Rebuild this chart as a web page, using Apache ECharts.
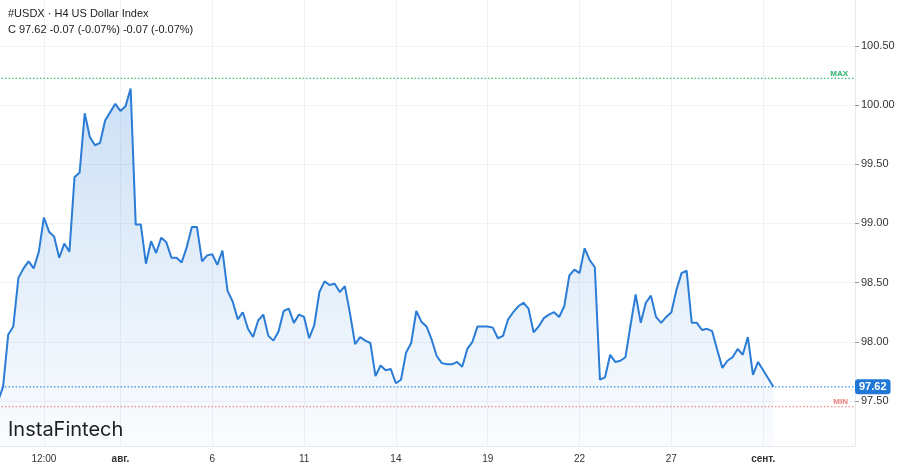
<!DOCTYPE html>
<html>
<head>
<meta charset="utf-8">
<script src="https://cdn.jsdelivr.net/npm/echarts@6/dist/echarts.min.js"></script>
<style>
html,body{margin:0;padding:0;background:#fff;}
#chart{width:900px;height:467px;}
</style>
</head>
<body>
<div id="chart"></div>
<script>
// H4 closes of #USDX, one per 4-hour bar
const closes = [
  97.50, 97.62, 98.06, 98.13, 98.54, 98.62, 98.68, 98.62, 98.76, 99.05,
  98.93, 98.89, 98.71, 98.83, 98.76, 99.39, 99.43, 99.93, 99.73, 99.66,
  99.68, 99.87, 99.94, 100.01, 99.95, 99.99, 100.14, 98.99, 98.99, 98.66,
  98.85, 98.75, 98.88, 98.84, 98.71, 98.71, 98.67, 98.80, 98.97, 98.97,
  98.68, 98.73, 98.74, 98.65, 98.77, 98.43, 98.34, 98.19, 98.25, 98.11,
  98.04, 98.18, 98.23, 98.05, 98.01, 98.09, 98.26, 98.28, 98.16, 98.23,
  98.21, 98.03, 98.14, 98.42, 98.51, 98.48, 98.49, 98.42, 98.47, 98.24,
  97.98, 98.04, 98.01, 97.99, 97.71, 97.80, 97.76, 97.77, 97.65, 97.68,
  97.91, 97.99, 98.26, 98.17, 98.13, 98.02, 97.88, 97.82, 97.81, 97.81,
  97.83, 97.79, 97.94, 98.00, 98.13, 98.13, 98.13, 98.12, 98.03, 98.05,
  98.19, 98.25, 98.30, 98.33, 98.28, 98.08, 98.13, 98.20, 98.23, 98.25,
  98.21, 98.30, 98.56, 98.61, 98.58, 98.79, 98.69, 98.63, 97.68, 97.70,
  97.89, 97.83, 97.84, 97.87, 98.14, 98.40, 98.16, 98.33, 98.39, 98.21,
  98.16, 98.21, 98.25, 98.44, 98.58, 98.60, 98.16, 98.16, 98.10, 98.11,
  98.09, 97.93, 97.78, 97.84, 97.87, 97.94, 97.89, 98.04, 97.72, 97.83,
  97.76, 97.69, 97.62
];
// total bar slots shown on the time axis (data + empty space on the right)
const slotCount = 169;
// x tick labels and the bar index they sit at
const tickIndex = [9, 24, 42, 60, 78, 96, 114, 132, 150];
const tickText = ['12:00', 'авг.', '6', '11', '14', '19', '22', '27', 'сент.'];
const monthTicks = ['авг.', 'сент.'];
// y tick values
const yTicks = [97.5, 98.0, 98.5, 99.0, 99.5, 100.0, 100.5];
// reference levels
const lastPrice = 97.62;
const maxLevel = 100.225;
const minLevel = 97.452;
const titleText = '#USDX · H4 US Dollar Index';
const quoteText = 'C 97.62 -0.07 (-0.07%) -0.07 (-0.07%)';

const categories = [];
for (let i = 0; i < slotCount; i++) categories.push(String(i));
const tickMap = {};
tickIndex.forEach((k, i) => { tickMap[k] = tickText[i]; });
const isTick = (idx) => tickMap.hasOwnProperty(idx);

const chart = echarts.init(document.getElementById('chart'), null, {renderer: 'canvas'});
const FONT = '"Liberation Sans", Arial, sans-serif';

function levelSeries(name, value, lineColor, labelOpt) {
  return {
    name: name,
    type: 'line',
    data: new Array(slotCount).fill(value),
    symbol: 'none',
    silent: true,
    z: 1,
    lineStyle: {color: lineColor, type: [1.5, 2], width: 1.3},
    emphasis: {disabled: true},
    endLabel: labelOpt
  };
}

chart.setOption({
  animation: false,
  backgroundColor: '#ffffff',
  grid: {left: -2, right: 45, top: 0, bottom: 21, containLabel: false, outerBoundsMode: 'none'},
  xAxis: {
    type: 'category',
    data: categories,
    boundaryGap: false,
    axisLine: {show: true, lineStyle: {color: '#e6e9ef', width: 1}},
    axisTick: {show: false},
    axisLabel: {
      interval: (idx) => isTick(idx),
      formatter: (v, idx) => {
        const t = tickMap[idx] || '';
        return monthTicks.indexOf(t) >= 0 ? '{b|' + t + '}' : t;
      },
      color: '#333',
      fontSize: 10,
      fontFamily: FONT,
      margin: 8,
      rich: {b: {fontWeight: 'bold', fontSize: 10, color: '#333', fontFamily: FONT}}
    },
    splitLine: {show: true, interval: (idx) => isTick(idx), lineStyle: {color: '#f0f2f6', width: 1}}
  },
  yAxis: {
    type: 'value',
    position: 'right',
    min: 97.12,
    max: 100.887,
    axisLine: {show: true, lineStyle: {color: '#e6e9ef'}},
    axisTick: {show: true, length: 4, lineStyle: {color: '#999'}, customValues: yTicks},
    axisLabel: {
      customValues: yTicks,
      formatter: (v) => v.toFixed(2),
      color: '#333',
      fontSize: 11,
      fontFamily: FONT,
      margin: 6
    },
    splitLine: {show: true, lineStyle: {color: '#f0f2f6', width: 1}}
  },
  graphic: [
    {type: 'text', z: 100, left: 8, top: 8, style: {text: titleText, fill: '#222', font: '11px ' + FONT}},
    {type: 'text', z: 100, left: 8, top: 24, style: {text: quoteText, fill: '#222', font: '11px ' + FONT}},
    {type: 'text', z: 100, left: 8, top: 420, style: {text: 'InstaFintech', fill: '#1e1e1e', font: '400 20px Inter, Lato, sans-serif'}}
  ],
  series: [
  levelSeries('last', lastPrice, '#3d8fe2', {
    show: true, distance: 0, formatter: lastPrice.toFixed(2),
    align: 'left', verticalAlign: 'middle',
    backgroundColor: '#1f78d6', color: '#fff', borderRadius: 3,
    padding: [2, 4, 2, 4], fontSize: 11, fontWeight: 'bold', fontFamily: FONT
  }),
  levelSeries('max', maxLevel, '#3cbf74', {
    show: true, distance: 0, formatter: 'MAX', align: 'right', verticalAlign: 'bottom',
    offset: [-7, -1], color: '#2eb36a', fontSize: 8, fontWeight: 'bold', fontFamily: FONT
  }),
  levelSeries('min', minLevel, '#f08b8b', {
    show: true, distance: 0, formatter: 'MIN', align: 'right', verticalAlign: 'bottom',
    offset: [-7, -1], color: '#ef7c7c', fontSize: 8, fontWeight: 'bold', fontFamily: FONT
  }),
  {
    name: 'USDX',
    type: 'line',
    data: closes,
    symbol: 'none',
    z: 3,
    lineStyle: {color: '#2a7cd6', width: 2},
    areaStyle: {
      color: {
        type: 'linear', x: 0, y: 0, x2: 0, y2: 1,
        colorStops: [
          {offset: 0, color: 'rgba(42,124,214,0.34)'},
          {offset: 1, color: 'rgba(42,124,214,0.03)'}
        ]
      }
    }
  }
  ]
});
</script>
</body>
</html>
